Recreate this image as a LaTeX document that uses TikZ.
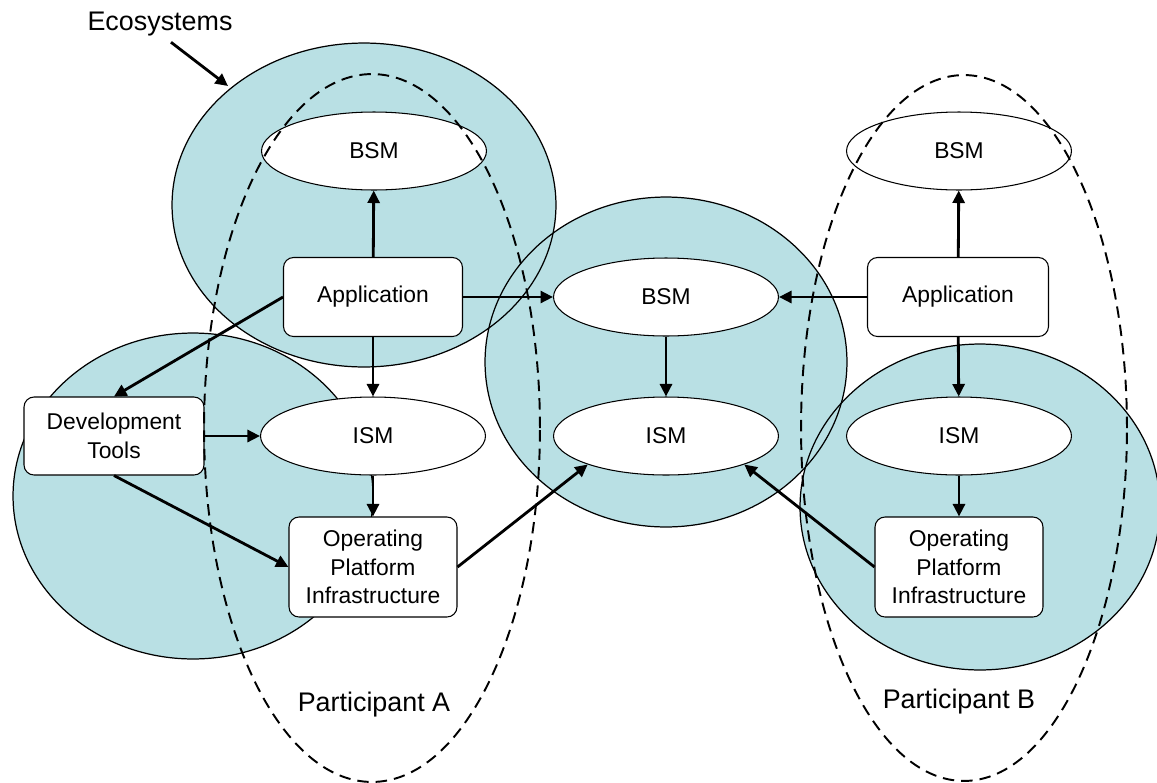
\documentclass[tikz,border=0pt]{standalone}
\usepackage{fontspec}
\setmainfont{Liberation Sans}
\usetikzlibrary{arrows.meta,shapes.geometric}

\definecolor{ecoblue}{RGB}{185,224,228}

\begin{document}
\begin{tikzpicture}[x=0.02cm,y=-0.02cm,
    model/.style={draw,ellipse,fill=white,line width=0.6pt,minimum width=4.5cm,minimum height=1.56cm,font=\fontsize{13}{16.2}\selectfont},
    block/.style={draw,rectangle,rounded corners=0.2cm,fill=white,line width=0.6pt,align=center,font=\fontsize{13}{16.2}\selectfont},
    link/.style={line width=1.6pt,-{Triangle[length=0.25cm,width=0.24cm]}},
    party/.style={line width=1.1pt,dash pattern=on 6.5pt off 4pt},
    label/.style={font=\fontsize{15.3}{18}\selectfont}]
    \useasboundingbox (0,0) rectangle (1157,782);

    % Ecosystems (fill first, outlines on top)
    \fill[ecoblue] (364,205) ellipse [x radius=3.84cm, y radius=3.24cm];
    \fill[ecoblue] (193,496) ellipse [x radius=3.6cm, y radius=3.26cm];
    \fill[ecoblue] (666,362) ellipse [x radius=3.62cm, y radius=3.3cm];
    \fill[ecoblue] (980,507) ellipse [x radius=3.6cm, y radius=3.26cm];
    \draw[line width=0.7pt] (364,205) ellipse [x radius=3.84cm, y radius=3.24cm];
    \draw[line width=0.7pt] (193,496) ellipse [x radius=3.6cm, y radius=3.26cm];
    \draw[line width=0.7pt] (666,362) ellipse [x radius=3.62cm, y radius=3.3cm];
    \draw[line width=0.7pt] (980,507) ellipse [x radius=3.6cm, y radius=3.26cm];

    % Participant A
    \node[model] (bsmA) at (374,151) {BSM};
    \node[block,minimum width=3.58cm,minimum height=1.58cm] (appA) at (373,297) {Application};
    \node[model] (ismA) at (373,436) {ISM};
    \node[block,minimum width=3.36cm,minimum height=2cm] (opiA) at (373,567) {Operating\\Platform\\Infrastructure};
    \node[block,minimum width=3.6cm,minimum height=1.56cm] (dev) at (114,436) {Development\\Tools};

    % shared models
    \node[model] (bsmC) at (666,297) {BSM};
    \node[model] (ismC) at (666,436) {ISM};

    % Participant B
    \node[model] (bsmB) at (959,151) {BSM};
    \node[block,minimum width=3.62cm,minimum height=1.58cm] (appB) at (958,297) {Application};
    \node[model] (ismB) at (959,436) {ISM};
    \node[block,minimum width=3.36cm,minimum height=2cm] (opiB) at (959,567) {Operating\\Platform\\Infrastructure};

    % Links
    \draw[link] (appA) -- (bsmA);
    \draw[link] (appA) -- (ismA);
    \draw[link] (ismA) -- (opiA);
    \draw[link] (appA) -- (bsmC);
    \draw[link] (appA.west) -- (dev.north);
    \draw[link] (dev) -- (ismA);
    \draw[link] (dev.south) -- (opiA.west);
    \draw[link] (opiA.east) -- (ismC.200);
    \draw[link] (bsmC) -- (ismC);
    \draw[link] (appB) -- (bsmC);
    \draw[link] (appB) -- (bsmB);
    \draw[link] (appB) -- (ismB);
    \draw[link] (ismB) -- (opiB);
    \draw[link] (opiB.west) -- (ismC.340);

    % Participant boundaries
    \draw[party] (372,428) ellipse [x radius=3.36cm, y radius=7.08cm];
    \draw[party] (964,428) ellipse [x radius=3.26cm, y radius=7.06cm];

    % Labels
    \node[label] (ecolabel) at (160,24) {Ecosystems};
    \coordinate (ecotip) at (228,86);
    \draw[link] ([xshift=0.22cm]ecolabel.south) -- (ecotip);
    \node[label] (partA) at (374,705) {Participant A};
    \node[label] (partB) at (959,702) {Participant B};
\end{tikzpicture}
\end{document}
